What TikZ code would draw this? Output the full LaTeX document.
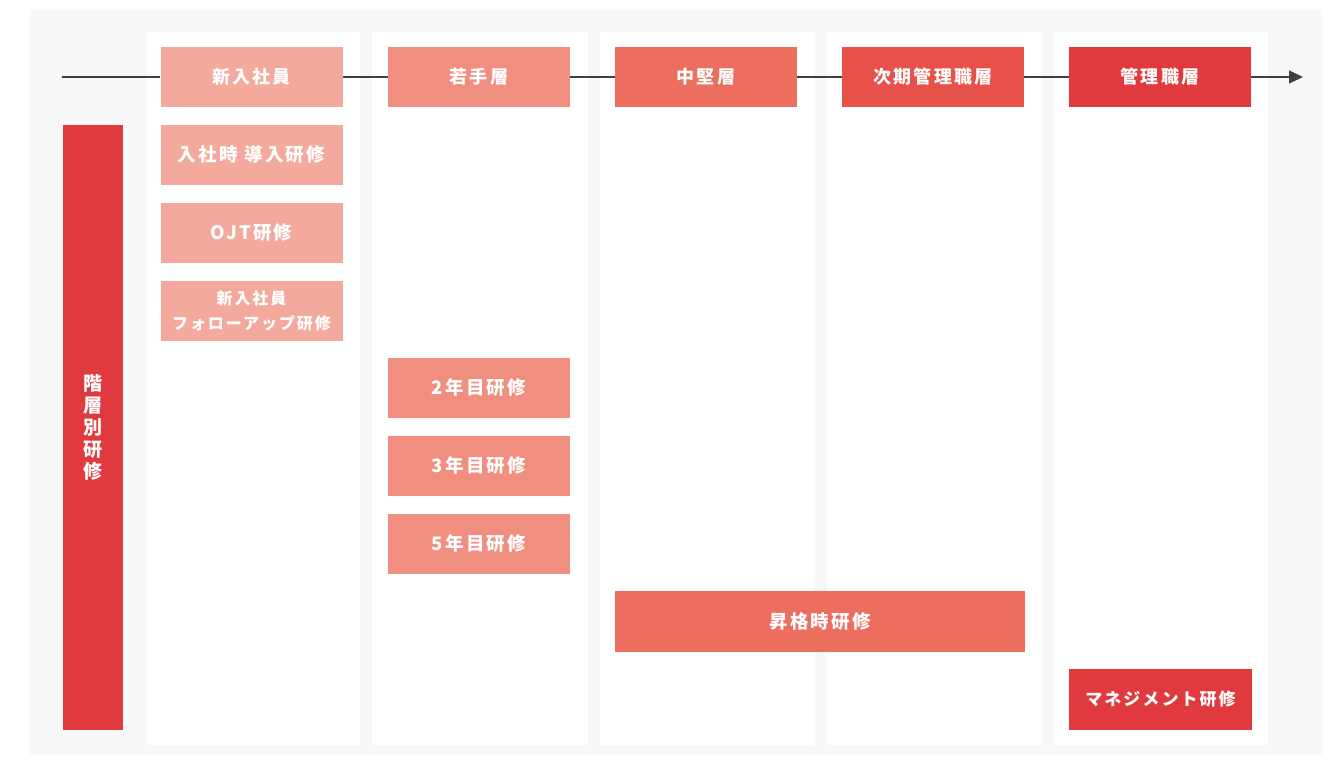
\documentclass[tikz,border=0pt]{standalone}
\usepackage{fontspec}
\newfontfamily\jp{Noto Sans CJK JP}[LetterSpace=12]
\usetikzlibrary{arrows.meta}
\definecolor{bgray}{HTML}{F8F8F8}
\definecolor{cA}{HTML}{F3AA9C}
\definecolor{cB}{HTML}{F08E80}
\definecolor{cC}{HTML}{EC6E5F}
\definecolor{cD}{HTML}{E8514A}
\definecolor{cE}{HTML}{E03A3E}
\definecolor{lineg}{HTML}{404040}
\tikzset{
  box/.style={rectangle, inner sep=0pt, text=white, align=center, font=\jp\bfseries\fontsize{18.5}{22}\selectfont},
  head/.style={box, minimum width=182pt, minimum height=60pt, font=\jp\bfseries\fontsize{18}{22}\selectfont},
  item/.style={box, minimum width=182pt, minimum height=60pt},
  col/.style={fill=white, draw=none},
  conn/.style={draw=lineg, line width=1.2pt}
}
\begin{document}
\begin{tikzpicture}[x=1pt,y=-1pt]
\useasboundingbox (0,0) rectangle (1338,761);
\fill[white] (0,0) rectangle (1338,761);
\fill[bgray] (30,10) rectangle (1322,755);
% columns
\fill[col] (147,32) rectangle (360,745);
\fill[col] (372,32) rectangle (588,745);
\fill[col] (600,32) rectangle (815,745);
\fill[col] (827,32) rectangle (1042,745);
\fill[col] (1054,32) rectangle (1268,745);
% header
\node[head, fill=cA] (h1) at (251.5,77) {新入社員};
\node[head, fill=cB] (h2) at (479,77) {若手層};
\node[head, fill=cC] (h3) at (706,77) {中堅層};
\node[head, fill=cD] (h4) at (933,77) {次期管理職層};
\node[head, fill=cE] (h5) at (1160,77) {管理職層};
\coordinate (s) at (62,77);
\coordinate (e) at (1303,77);
\draw[conn] (s) -- (h1.west);
\draw[conn] (h1.east) -- (h2.west);
\draw[conn] (h2.east) -- (h3.west);
\draw[conn] (h3.east) -- (h4.west);
\draw[conn] (h4.east) -- (h5.west);
\draw[conn, -{Triangle[length=14pt,width=13pt]}] (h5.east) -- (e);
% vertical bar
\node[box, fill=cE, minimum width=60pt, minimum height=605pt, font=\jp\bfseries\fontsize{19}{22}\selectfont] (v) at (93,427.5) {階\\層\\別\\研\\修};
% column 1 items
\node[item, fill=cA] (a1) at (251.5,155) {入社時 導入研修};
\node[item, fill=cA] (a2) at (251.5,233) {OJT研修};
\node[item, fill=cA, font=\jp\bfseries\fontsize{16}{25}\selectfont] (a3) at (251.5,311) {新入社員\\フォローアップ研修};
% column 2 items
\node[item, fill=cB] (b1) at (479,388) {2年目研修};
\node[item, fill=cB] (b2) at (479,466) {3年目研修};
\node[item, fill=cB] (b3) at (479,544) {5年目研修};
% spanning
\node[box, fill=cC, minimum width=410pt, minimum height=61pt] (c1) at (820,621.5) {昇格時研修};
\node[item, fill=cE, minimum width=183pt, minimum height=61pt, font=\jp\bfseries\fontsize{17}{22}\selectfont] (d1) at (1160.5,699.5) {マネジメント研修};
\end{tikzpicture}
\end{document}
